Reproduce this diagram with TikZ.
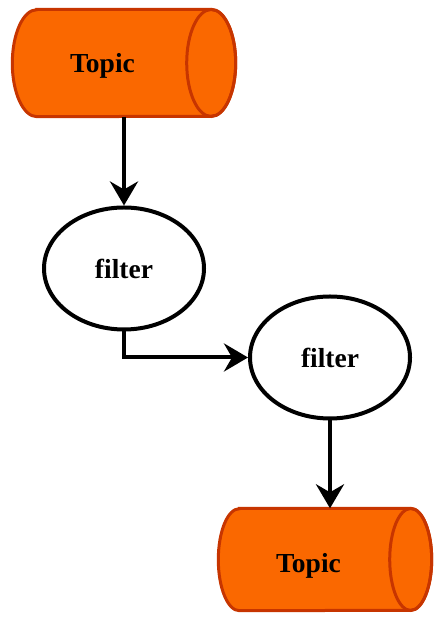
\documentclass[tikz,border=0pt]{standalone}
\usepackage{fontspec}
\setmainfont{Liberation Serif}
\usetikzlibrary{shapes.geometric,arrows.meta}
\definecolor{topicfill}{HTML}{FA6800}
\definecolor{topicline}{HTML}{C73500}
% outline of a horizontal cylinder around a body node:
% #1 node name, #2 cap x radius, #3 cap y radius
\newcommand\drawtopic[3]{%
  \filldraw[topicbody] ([xshift=#2]#1.north west) -- ([xshift=-#2]#1.north east)
    arc[start angle=90,end angle=-90,x radius=#2,y radius=#3]
    -- ([xshift=#2]#1.south west)
    arc[start angle=270,end angle=90,x radius=#2,y radius=#3] -- cycle;
  \draw[topicbody,fill=none] ([xshift=-#2]#1.east) ellipse[x radius=#2,y radius=#3];}
\begin{document}
\begin{tikzpicture}[x=1pt,y=1pt,
  topicbody/.style={draw=topicline, fill=topicfill, line width=3pt},
  topicarea/.style={rectangle, draw=none, inner sep=0pt},
  label/.style={anchor=base, font=\bfseries\fontsize{27.5}{33}\selectfont},
  proc/.style={ellipse, draw=black, line width=4pt, fill=white,
    minimum width=160pt, minimum height=122pt, inner sep=0pt,
    font=\bfseries\fontsize{27.5}{33}\selectfont},
  flow/.style={-{Stealth[length=24pt,width=28pt,inset=8pt]}, line width=4pt}]
\useasboundingbox (0,0) rectangle (436,617);
% source and sink topics
\node[topicarea, minimum width=223pt, minimum height=107pt] (src) at (124,554) {};
\drawtopic{src}{24.5pt}{53.5pt}
\node[label] (srct) at (102.5,544) {Topic};
\node[topicarea, minimum width=213pt, minimum height=102pt] (dst) at (325,57.5) {};
\drawtopic{dst}{21pt}{51pt}
\node[label] (dstt) at (308.5,44) {Topic};
% filter stages
\node[proc] (f1) at (124,348.5) {filter};
\node[proc] (f2) at (330,259.5) {filter};
% connectors
\draw[flow] (src.south) -- (f1.north);
\draw[flow] (f1.south) |- (f2.west);
\draw[flow] (f2.south) -- (f2.south |- dst.north);
\end{tikzpicture}
\end{document}
